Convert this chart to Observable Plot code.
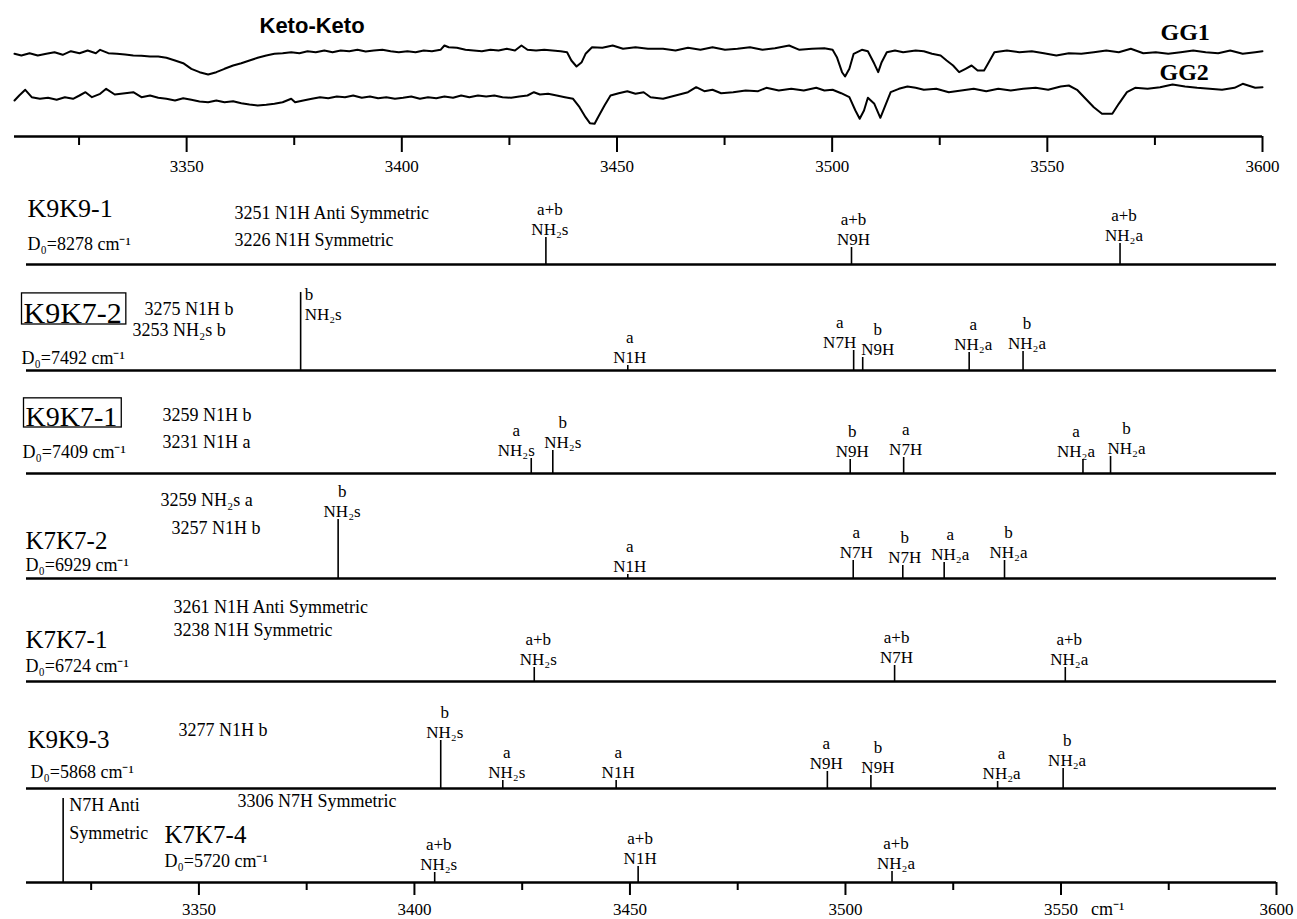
<!DOCTYPE html>
<html>
<head>
<meta charset="utf-8">
<script src="https://cdn.jsdelivr.net/npm/d3@7"></script>
<script src="https://cdn.jsdelivr.net/npm/@observablehq/plot@0.6"></script>
<style>
  html, body { margin: 0; padding: 0; background: #fff; }
  #chart { position: relative; width: 1297px; height: 919px; overflow: hidden; background: #fff; }
</style>
</head>
<body>
<div id="chart"></div>
<script>
// ---------------- DATA ----------------
const gg1Wavenumber = [3310,3311.6,3313.5,3315.4,3317.4,3319.3,3321.2,3323.1,3325.1,3327.0,3328.9,3329.9,3331.8,3333.8,3335.7,3337.6,3339.5,3341.5,3343.4,3345.3,3347.3,3349.2,3351.1,3353.0,3355.0,3356.9,3358.8,3360.8,3362.7,3364.6,3366.5,3368.5,3370.4,3372.3,3374.3,3376.2,3378.1,3380.0,3382.0,3383.9,3385.8,3387.8,3389.7,3391.6,3393.5,3395.5,3397.4,3399.3,3401.3,3403.2,3405.1,3407.0,3409.0,3409.9,3410.9,3412.8,3414.8,3416.7,3418.6,3420.6,3422.5,3424.4,3426.3,3427.8,3429.2,3431.2,3433.1,3435.0,3436.9,3438.4,3439.4,3440.6,3441.8,3442.7,3444.2,3446.6,3449.0,3451.4,3454.3,3457.2,3460.7,3463.6,3466.5,3469.4,3472.2,3475.1,3478.0,3480.9,3483.8,3486.7,3490.0,3492.4,3495.3,3498.2,3500.1,3501.1,3502.3,3503.0,3504.0,3505.0,3506.9,3508.3,3509.8,3510.7,3511.5,3512.7,3514.6,3516.5,3519.4,3521.3,3523.2,3525.2,3526.6,3528.1,3529.5,3531.0,3532.4,3533.8,3535.3,3536.2,3537.7,3540.6,3543.5,3546.4,3549.2,3552.1,3555.0,3557.9,3560.8,3563.7,3566.6,3569.4,3572.3,3575.2,3578.1,3581.0,3583.9,3586.8,3589.7,3592.5,3595.4,3598.3,3600];
const gg1Signal = [56.7,55.0,57.3,55.0,56.7,58.3,55.7,59.3,57.3,60.0,57.3,60.7,57.3,56.7,56.0,55.0,54.7,54.0,54.0,52.7,50.0,47.3,41.7,38.3,36.0,38.3,41.7,45.0,47.3,50.0,52.7,55.0,56.7,57.3,58.3,57.3,59.3,58.3,60.0,58.3,60.0,59.3,60.7,59.0,60.0,60.7,59.3,58.3,59.3,58.3,60.0,59.3,60.7,65.0,63.3,62.7,60.7,60.0,59.3,60.7,60.0,61.7,60.0,65.0,60.7,60.0,60.7,60.0,59.3,58.3,50.0,44.0,48.3,56.7,63.3,62.7,65.0,61.7,63.3,61.7,61.7,60.0,62.7,60.7,63.3,60.7,61.7,63.3,60.7,62.3,65.0,60.7,61.7,62.3,60.7,53.3,38.3,34.0,41.7,56.7,60.7,59.3,46.7,38.3,48.3,58.3,60.0,58.3,60.0,59.3,56.7,55.0,50.0,45.0,38.3,41.7,45.0,40.0,40.0,46.7,58.3,60.0,58.3,59.3,57.3,55.0,57.3,56.7,58.3,60.0,58.3,61.7,57.3,58.3,56.7,58.3,60.0,58.3,57.3,60.0,56.7,58.3,59.3];

const gg2Wavenumber = [3310,3311.1,3312.5,3314.0,3315.9,3317.8,3319.8,3321.7,3323.6,3325.1,3326.5,3328.0,3329.9,3331.3,3333.3,3335.7,3337.6,3339.5,3341.5,3343.4,3345.3,3347.3,3349.2,3351.1,3353.0,3355.0,3356.9,3358.8,3360.8,3362.7,3364.6,3366.5,3368.5,3370.4,3372.3,3374.3,3375.2,3377.1,3379.1,3381.0,3382.9,3384.9,3386.8,3388.7,3390.7,3392.6,3394.5,3396.4,3398.4,3400.3,3402.2,3404.2,3406.1,3408.0,3409.9,3411.9,3413.8,3415.7,3417.7,3419.6,3421.5,3423.4,3425.4,3427.3,3429.2,3430.7,3432.1,3434.0,3436.0,3437.9,3439.8,3441.3,3442.7,3443.7,3444.8,3445.6,3447.1,3448.5,3450.4,3452.4,3454.3,3456.2,3457.8,3460.7,3463.6,3466.5,3468.4,3470.3,3472.2,3474.2,3477.0,3479.9,3482.8,3484.7,3487.6,3490.5,3493.4,3496.3,3498.2,3500.1,3502.1,3504.0,3505.4,3506.4,3507.4,3508.3,3509.8,3511.2,3512.2,3513.6,3515.5,3517.5,3519.4,3521.3,3524.2,3527.1,3530.0,3532.9,3535.8,3538.6,3541.5,3544.4,3547.3,3550.2,3553.1,3555.0,3556.9,3558.9,3560.8,3562.7,3565.1,3566.6,3568.5,3570.4,3573.3,3576.2,3579.1,3582.0,3584.8,3587.7,3590.6,3593.5,3595.4,3598.3,3600];
const gg2Signal = [10.0,15.0,20.7,13.3,11.7,12.7,10.7,13.3,11.7,15.0,18.3,13.3,16.7,21.7,16.0,17.3,18.3,13.3,15.0,12.7,11.7,10.0,12.3,10.7,9.0,8.3,10.0,8.3,9.3,7.3,6.0,5.0,5.7,6.7,8.3,11.7,8.3,10.0,11.7,13.3,12.3,14.0,13.3,15.0,12.7,14.0,12.3,13.3,11.7,12.7,14.0,11.7,13.3,12.3,14.0,12.7,15.0,13.3,15.0,14.0,15.0,13.3,12.7,14.0,15.0,18.3,16.0,16.7,15.0,13.3,11.7,3.3,-6.7,-12.7,-13.3,-6.7,5.0,15.0,17.3,19.3,16.7,18.3,13.3,11.7,15.0,18.3,23.3,19.3,20.7,17.3,18.3,20.0,19.3,22.7,20.0,21.7,20.0,22.7,20.0,20.7,17.3,13.3,0.0,-8.3,0.0,12.7,6.7,-7.3,3.3,18.3,21.7,24.0,22.7,20.7,21.7,18.3,20.0,21.7,19.3,21.7,20.0,21.7,22.7,20.7,24.0,25.0,20.7,11.7,3.3,-3.3,-3.3,6.7,18.3,22.7,21.7,23.3,26.0,24.0,22.7,21.7,20.7,22.7,26.7,22.7,23.3];

const majorTicks = [3350, 3400, 3450, 3500, 3550, 3600];
const minorTicks = [3325, 3375, 3425, 3475, 3525, 3575];

// Calculated stick spectra of the keto-keto dimers
const panelNames = ["K9K9-1", "K9K7-2", "K9K7-1", "K7K7-2", "K7K7-1", "K9K9-3", "K7K7-4"];
const bindingEnergies = [8278, 7492, 7409, 6929, 6724, 5868, 5720];
const panelNotes = [
  ["3251 N1H Anti Symmetric", "3226 N1H Symmetric"],
  ["3275 N1H b", "3253 NH\u2082s b"],
  ["3259 N1H b", "3231 N1H a"],
  ["3259 NH\u2082s a", "3257 N1H b"],
  ["3261 N1H Anti Symmetric", "3238 N1H Symmetric"],
  ["3277 N1H b"],
  ["3306 N7H Symmetric"]
];
const stickWavenumbers = [
  [3430.5, 3501.4, 3563.7],
  [3373.6, 3449.5, 3501.9, 3504.0, 3528.7, 3541.2],
  [3427.1, 3432.1, 3501.1, 3513.5, 3555.1, 3561.5],
  [3382.3, 3449.5, 3501.8, 3513.3, 3522.9, 3536.9],
  [3427.8, 3511.4, 3551.0],
  [3406.1, 3420.5, 3446.8, 3495.8, 3505.9, 3535.3, 3550.5],
  [3318.5, 3404.7, 3451.9, 3510.8]
];
const stickIntensities = [
  [27, 17, 21],
  [78, 5, 20, 13, 18, 19],
  [15, 23, 14, 16, 14, 17],
  [59, 4, 18, 13, 16, 18],
  [14, 16, 14],
  [48, 8, 8, 17, 13, 7, 20],
  [84, 10, 16, 11]
];
const stickConformer = [
  ["a+b", "a+b", "a+b"],
  ["b", "a", "a", "b", "a", "b"],
  ["a", "b", "b", "a", "a", "b"],
  ["b", "a", "a", "b", "a", "b"],
  ["a+b", "a+b", "a+b"],
  ["b", "a", "a", "a", "b", "a", "b"],
  ["", "a+b", "a+b", "a+b"]
];
const stickModes = [
  ["NH\u2082s", "N9H", "NH\u2082a"],
  ["NH\u2082s", "N1H", "N7H", "N9H", "NH\u2082a", "NH\u2082a"],
  ["NH\u2082s", "NH\u2082s", "N9H", "N7H", "NH\u2082a", "NH\u2082a"],
  ["NH\u2082s", "N1H", "N7H", "N7H", "NH\u2082a", "NH\u2082a"],
  ["NH\u2082s", "N7H", "NH\u2082a"],
  ["NH\u2082s", "NH\u2082s", "N1H", "N9H", "N9H", "NH\u2082a", "NH\u2082a"],
  ["N7H Anti Symmetric", "NH\u2082s", "N1H", "NH\u2082a"]
];

// ---------------- LAYOUT (page pixels) ----------------
const W = 1297;
const SERIF = "'Liberation Serif', 'Times New Roman', Times, serif";
const panelLayout = {
  baseline: [264, 370, 473, 578, 681, 788, 882],
  name: [[27, 216, 26], [23, 322, 30], [25, 425, 28], [25, 548, 25], [25, 647, 25], [27, 747, 25], [164, 842, 25]],
  d0: [[27, 249], [21, 363], [22, 457], [25, 570], [25, 671], [30, 777], [164, 866]],
  notes: [[[234, 218], [234, 245]], [[144, 314], [132, 335]], [[162, 420], [162, 447]], [[160, 505], [171, 533]], [[173, 612], [173, 635]], [[178, 735]], [[237, 806]]],
  boxed: [false, true, true, false, false, false, false]
};
// horizontal nudges of the two-line stick labels where neighbours crowd
const labelNudge = {
  "K9K7-2|a|N7H": -14,
  "K9K7-2|b|N9H": 15,
  "K9K7-1|a|NH\u2082s": -15,
  "K9K7-1|b|NH\u2082s": 10,
  "K9K7-1|a|NH\u2082a": -7,
  "K9K7-1|b|NH\u2082a": 16,
  "K7K7-2|a|N7H": 3,
  "K7K7-2|b|N7H": 2,
  "K7K7-2|a|NH\u2082a": 6,
  "K9K9-3|a|N9H": -1,
  "K9K9-3|b|N9H": 7
};
// labels written beside (to the right of) the stick top instead of above it
const sideLabels = {
  "K9K7-2|b|NH\u2082s": {dx: 4, dy: 27},
  "K7K7-4||N7H Anti Symmetric": {dx: 6, dy: 40}
};

const chart = document.getElementById("chart");
function place(svg, top) {
  svg.style.position = "absolute";
  svg.style.left = "0px";
  svg.style.top = top + "px";
  chart.appendChild(svg);
  return svg;
}
function frameText(text, px, py, left, top, opts = {}) {
  return Plot.text([text], {
    text: d => d, frameAnchor: "top-left", dx: px - left, dy: py - top,
    textAnchor: "start", lineAnchor: "bottom", fill: "#000", fontSize: 18, ...opts
  });
}

// ---------------- TOP: experimental spectra ----------------
const TL = 14, TR = 35;
const gg1 = gg1Wavenumber.map((w, i) => ({w, s: gg1Signal[i]}));
const gg2 = gg2Wavenumber.map((w, i) => ({w, s: gg2Signal[i]}));
const topSvg = Plot.plot({
  width: W, height: 185,
  marginLeft: TL, marginRight: TR, marginTop: 0, marginBottom: 49,
  x: {domain: [3310, 3600], label: null},
  y: {domain: [-26, 110], axis: null},
  style: {background: "transparent", fontFamily: SERIF, overflow: "visible", color: "#000"},
  marks: [
    Plot.line(gg1, {x: "w", y: "s", stroke: "#000", strokeWidth: 2}),
    Plot.line(gg2, {x: "w", y: "s", stroke: "#000", strokeWidth: 2}),
    Plot.ruleY([-26], {stroke: "#000", strokeWidth: 2.5}),
    Plot.axisX(majorTicks, {tickSize: 16, tickPadding: 7, strokeWidth: 2, fontSize: 17, tickFormat: d => String(d), label: null}),
    Plot.axisX(minorTicks, {tickSize: 9, strokeWidth: 2, tickFormat: () => "", label: null}),
    frameText("Keto-Keto", 259, 32, TL, 0, {fontFamily: "'Liberation Sans', Arial, sans-serif", fontWeight: "bold", fontSize: 22}),
    frameText("GG1", 1160, 39, TL, 0, {fontWeight: "bold", fontSize: 24}),
    frameText("GG2", 1159, 79, TL, 0, {fontWeight: "bold", fontSize: 24})
  ]
});
place(topSvg, 0);

// ---------------- STICK PANELS ----------------
const PL = 26, PR = 21, P = 100;
const LABEL = 17;
panelNames.forEach((name, i) => {
  const base = panelLayout.baseline[i];
  const last = i === panelNames.length - 1;
  const top = base - P;
  const mb = last ? 35 : 4;
  const sticks = stickWavenumbers[i].map((w, j) => ({
    w, h: stickIntensities[i][j], conf: stickConformer[i][j], mode: stickModes[i][j]
  }));
  const marks = [
    Plot.ruleY([0], {stroke: "#000", strokeWidth: 2.6}),
    Plot.ruleX(sticks, {x: "w", y1: 0, y2: "h", stroke: "#000", strokeWidth: 1.6})
  ];
  sticks.forEach(d => {
    const key = `${name}|${d.conf}|${d.mode}`;
    const side = sideLabels[key];
    if (side) {
      const txt = d.conf ? `${d.conf}\n${d.mode}` : d.mode.replace(/ (\S+)$/, "\n$1");
      const lh = d.conf ? 1.12 : 1.55;
      marks.push(Plot.text([d], {
        x: "w", y: "h", text: () => txt, dx: side.dx, dy: side.dy, lineHeight: lh,
        textAnchor: "start", lineAnchor: "bottom", fontSize: d.conf ? LABEL : 18, fill: "#000"
      }));
    } else {
      const ndx = key in labelNudge ? labelNudge[key] : (d.mode.startsWith("NH") ? 4 : 2);
      marks.push(Plot.text([d], {
        x: "w", y: "h", text: e => `${e.conf}\n${e.mode}`, dx: ndx, dy: -3, lineHeight: 1.12,
        lineAnchor: "bottom", fontSize: LABEL, fill: "#000"
      }));
    }
  });
  const [nx, ny, nfs] = panelLayout.name[i];
  marks.push(frameText(name, nx, ny, PL, top, {fontSize: nfs}));
  const [dx0, dy0] = panelLayout.d0[i];
  marks.push(frameText(`D\u2080=${bindingEnergies[i]} cm\u207B\u00B9`, dx0, dy0, PL, top, {fontSize: 18}));
  panelNotes[i].forEach((t, k) => {
    const [qx, qy] = panelLayout.notes[i][k];
    marks.push(frameText(t, qx, qy, PL, top, {fontSize: 18}));
  });
  if (last) {
    marks.push(
      Plot.axisX(majorTicks, {tickSize: 13, tickPadding: 7, strokeWidth: 2, fontSize: 17, tickFormat: d => String(d), label: null}),
      Plot.axisX(minorTicks, {tickSize: 8, strokeWidth: 2, tickFormat: () => "", label: null}),
      Plot.text([majorTicks[4]], {x: d => d, y: () => 0, text: () => "cm\u207B\u00B9", dx: 30, dy: 32, textAnchor: "start", lineAnchor: "bottom", fontSize: 18, fill: "#000"})
    );
  }
  const svg = Plot.plot({
    width: W, height: P + mb,
    marginLeft: PL, marginRight: PR, marginTop: 0, marginBottom: mb,
    x: {domain: [3310, 3600], label: null, axis: last ? undefined : null},
    y: {domain: [0, P], axis: null},
    style: {background: "transparent", fontFamily: SERIF, overflow: "visible", color: "#000"},
    marks
  });
  place(svg, top);
  if (panelLayout.boxed[i]) {
    const t = [...svg.querySelectorAll("text")].find(e => e.textContent === name);
    if (t) {
      const r = t.getBoundingClientRect(), s = svg.getBoundingClientRect();
      const rect = document.createElementNS("http://www.w3.org/2000/svg", "rect");
      const yb = ny - top;
      rect.setAttribute("x", r.left - s.left - 2);
      rect.setAttribute("y", yb - 0.97 * nfs);
      rect.setAttribute("width", r.width + 6);
      rect.setAttribute("height", 0.97 * nfs + 2);
      rect.setAttribute("fill", "none");
      rect.setAttribute("stroke", "#000");
      rect.setAttribute("stroke-width", 1.3);
      svg.appendChild(rect);
    }
  }
});
</script>
</body>
</html>
